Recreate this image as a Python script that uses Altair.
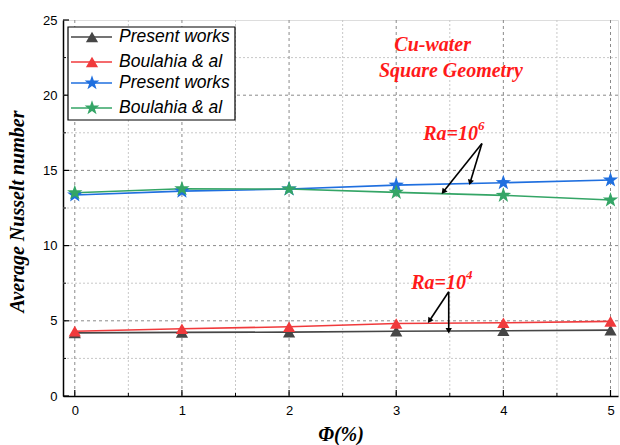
import math
import altair as alt
import pandas as pd

# ---------------- data ----------------
phi = [0, 1, 2, 3, 4, 5]
nu_present_ra4 = [4.20, 4.23, 4.25, 4.31, 4.34, 4.38]
nu_boulahia_ra4 = [4.31, 4.47, 4.60, 4.82, 4.87, 4.96]
nu_present_ra6 = [13.36, 13.62, 13.76, 14.02, 14.18, 14.36]
nu_boulahia_ra6 = [13.51, 13.78, 13.76, 13.54, 13.34, 13.03]

series_keys = ["p4", "b4", "p6", "b6"]
series_labels = ["Present works", "Boulahia & al", "Present works", "Boulahia & al"]
series_colors = ["#464646", "#f03a3c", "#1f6fdf", "#34a566"]
series_values = [nu_present_ra4, nu_boulahia_ra4, nu_present_ra6, nu_boulahia_ra6]

STAR = ("M0,-1L0.235,-0.324L0.951,-0.309L0.380,0.124L0.588,0.809L0,0.4"
        "L-0.588,0.809L-0.380,0.124L-0.951,-0.309L-0.235,-0.324Z")
series_shapes = ["triangle-up", "triangle-up", STAR, STAR]
series_sizes = [150, 150, 260, 260]

x_ticks = [0, 1, 2, 3, 4, 5]
x_minor = [0.5, 1.5, 2.5, 3.5, 4.5]
y_ticks = [0, 5, 10, 15, 20, 25]
y_minor = [2.5, 7.5, 12.5, 17.5, 22.5]
y_grid = [5, 10, 15, 20]

notes_text = ["Cu-water", "Square Geometry"]
notes_x = [3.34, 3.51]
notes_y = [23.33, 21.62]

ra_base = ["Ra=10", "Ra=10"]
ra_exp = ["6", "4"]
ra_x = [3.763, 3.651]
ra_y = [17.41, 7.53]

arrow_x1 = [3.80, 3.80, 3.49, 3.49]
arrow_y1 = [16.79, 16.79, 6.93, 6.93]
arrow_x2 = [3.44, 3.69, 3.31, 3.49]
arrow_y2 = [13.58, 14.20, 5.00, 4.34]

# ---------------- layout ----------------
W, H = 555, 376
XMIN, XMAX = -0.11, 5.07
YMIN, YMAX = 0, 25

xs = alt.Scale(domain=[XMIN, XMAX], nice=False, zero=False)
ys = alt.Scale(domain=[YMIN, YMAX], nice=False)

rows = []
for k, lab, col, shp, sz, vals in zip(series_keys, series_labels, series_colors,
                                      series_shapes, series_sizes, series_values):
    for p, v in zip(phi, vals):
        rows.append({"key": k, "label": lab, "color": col, "shape": shp,
                     "size": sz, "phi": p, "nu": v})
df = pd.DataFrame(rows)

X = alt.X("phi:Q", scale=xs,
          axis=alt.Axis(values=x_ticks, format="d", grid=False, ticks=False,
                        domainColor="black", domainWidth=1.5,
                        labelFont="Liberation Sans", labelFontSize=13,
                        labelColor="black", labelPadding=8,
                        title="Φ(%)", titleFont="Liberation Serif",
                        titleFontSize=20, titleFontStyle="italic",
                        titleFontWeight="bold", titleColor="black",
                        titleY=28, titleX=W / 2))
Y = alt.Y("nu:Q", scale=ys,
          axis=alt.Axis(values=y_ticks, grid=False, ticks=False,
                        domainColor="black", domainWidth=1.5,
                        labelFont="Liberation Sans", labelFontSize=13,
                        labelColor="black", labelPadding=6,
                        title="Average Nusselt number", titleFont="Liberation Serif",
                        titleFontSize=20, titleFontStyle="italic",
                        titleFontWeight="bold", titleColor="black",
                        titleX=-36, titleY=H / 2 + 3))

# grid layers
gx_major = alt.Chart(pd.DataFrame({"g": x_ticks})).mark_rule(
    color="#8a8a8a", strokeDash=[3, 3], strokeWidth=1).encode(
    x=alt.X("g:Q", scale=xs), y=alt.value(0), y2=alt.value(H))
gx_minor = alt.Chart(pd.DataFrame({"g": x_minor})).mark_rule(
    color="#c8c8c8", strokeDash=[2, 2], strokeWidth=1).encode(
    x=alt.X("g:Q", scale=xs), y=alt.value(0), y2=alt.value(H))
gy_major = alt.Chart(pd.DataFrame({"g": y_grid})).mark_rule(
    color="#8a8a8a", strokeDash=[3, 3], strokeWidth=1).encode(
    y=alt.Y("g:Q", scale=ys), x=alt.value(0), x2=alt.value(W))
gy_minor = alt.Chart(pd.DataFrame({"g": y_minor})).mark_rule(
    color="#c8c8c8", strokeDash=[2, 2], strokeWidth=1).encode(
    y=alt.Y("g:Q", scale=ys), x=alt.value(0), x2=alt.value(W))

# inward ticks
tx_major = alt.Chart(pd.DataFrame({"g": x_ticks})).mark_rule(
    color="black", strokeWidth=1.2).encode(
    x=alt.X("g:Q", scale=xs), y=alt.value(H), y2=alt.value(H - 6))
tx_minor = alt.Chart(pd.DataFrame({"g": x_minor})).mark_rule(
    color="black", strokeWidth=1).encode(
    x=alt.X("g:Q", scale=xs), y=alt.value(H), y2=alt.value(H - 3))
ty_major = alt.Chart(pd.DataFrame({"g": y_ticks})).mark_rule(
    color="black", strokeWidth=1.2).encode(
    y=alt.Y("g:Q", scale=ys), x=alt.value(0), x2=alt.value(6))
ty_minor = alt.Chart(pd.DataFrame({"g": y_minor})).mark_rule(
    color="black", strokeWidth=1).encode(
    y=alt.Y("g:Q", scale=ys), x=alt.value(0), x2=alt.value(3))

# series
lines = alt.Chart(df).mark_line(strokeWidth=1.6).encode(
    x=X, y=Y, detail="key:N",
    color=alt.Color("color:N", scale=None))
points = alt.Chart(df).mark_point(filled=True, opacity=1).encode(
    x=alt.X("phi:Q", scale=xs), y=alt.Y("nu:Q", scale=ys),
    color=alt.Color("color:N", scale=None),
    shape=alt.Shape("shape:N", scale=None),
    size=alt.Size("size:Q", scale=None))

# annotations
RED = "#ff1a1a"
notes = pd.DataFrame({"t": notes_text, "x": notes_x, "y": notes_y})
note_text = alt.Chart(notes).mark_text(
    font="Liberation Serif", fontSize=20, fontStyle="italic",
    fontWeight="bold", color=RED, align="center", baseline="middle").encode(
    x=alt.X("x:Q", scale=xs), y=alt.Y("y:Q", scale=ys), text="t:N")

ra = pd.DataFrame({"b": ra_base, "e": ra_exp, "x": ra_x, "y": ra_y})
ra_base_text = alt.Chart(ra).mark_text(
    font="Liberation Serif", fontSize=20, fontStyle="italic",
    fontWeight="bold", color=RED, align="right", baseline="middle").encode(
    x=alt.X("x:Q", scale=xs), y=alt.Y("y:Q", scale=ys), text="b:N")
ra_exp_text = alt.Chart(ra).mark_text(
    font="Liberation Serif", fontSize=13, fontStyle="italic",
    fontWeight="bold", color=RED, align="left", baseline="middle", dx=0, dy=-8).encode(
    x=alt.X("x:Q", scale=xs), y=alt.Y("y:Q", scale=ys), text="e:N")


def px(v):
    return (v - XMIN) / (XMAX - XMIN) * W


def py(v):
    return H - (v - YMIN) / (YMAX - YMIN) * H


ang = []
for a, b, c, d in zip(arrow_x1, arrow_y1, arrow_x2, arrow_y2):
    dx = px(c) - px(a)
    dy = py(d) - py(b)
    ang.append((math.degrees(math.atan2(dx, -dy)) + 360) % 360)
arrows = pd.DataFrame({"x1": arrow_x1, "y1": arrow_y1, "x2": arrow_x2,
                       "y2": arrow_y2, "ang": ang})
arrow_lines = alt.Chart(arrows).mark_rule(color="black", strokeWidth=1.6).encode(
    x=alt.X("x1:Q", scale=xs), y=alt.Y("y1:Q", scale=ys),
    x2="x2:Q", y2="y2:Q")
arrow_heads = alt.Chart(arrows).mark_point(
    shape="triangle-up", filled=True, color="black", opacity=1, size=40).encode(
    x=alt.X("x2:Q", scale=xs), y=alt.Y("y2:Q", scale=ys),
    angle=alt.Angle("ang:Q", scale=None))

# legend (manual)
leg = pd.DataFrame({"label": series_labels, "color": series_colors,
                    "shape": series_shapes,
                    "size": [150, 150, 240, 240],
                    "ly": [17, 42, 63, 88]})
leg_box = alt.Chart(pd.DataFrame({"a": [0]})).mark_rect(
    fill="white", stroke="black", strokeWidth=1.2).encode(
    x=alt.value(5), x2=alt.value(172), y=alt.value(7), y2=alt.value(100))
leg_lines = alt.Chart(leg).mark_rule(strokeWidth=1.6).encode(
    x=alt.value(8), x2=alt.value(49),
    y=alt.Y("ly:Q", scale=None),
    color=alt.Color("color:N", scale=None))
leg_pts = alt.Chart(leg).mark_point(filled=True, opacity=1).encode(
    x=alt.value(29), y=alt.Y("ly:Q", scale=None),
    color=alt.Color("color:N", scale=None),
    shape=alt.Shape("shape:N", scale=None),
    size=alt.Size("size:Q", scale=None))
leg_txt = alt.Chart(leg).mark_text(
    font="Liberation Sans", fontSize=17.5, fontStyle="italic", align="left",
    baseline="middle", color="black").encode(
    x=alt.value(56), y=alt.Y("ly:Q", scale=None), text="label:N")

chart = alt.layer(
    gx_minor, gy_minor, gx_major, gy_major,
    lines, points, tx_major, tx_minor, ty_major, ty_minor,
    arrow_lines, arrow_heads, note_text, ra_base_text, ra_exp_text,
    leg_box, leg_lines, leg_pts, leg_txt,
).properties(
    width=W, height=H,
    autosize=alt.AutoSizeParams(type="none"),
    padding={"left": 63, "top": 20, "right": 2, "bottom": 49},
).configure_view(stroke="#9a9a9a", strokeWidth=1).configure(background="white")

chart.save("out.html", embed_options={"renderer": "svg", "actions": False})
